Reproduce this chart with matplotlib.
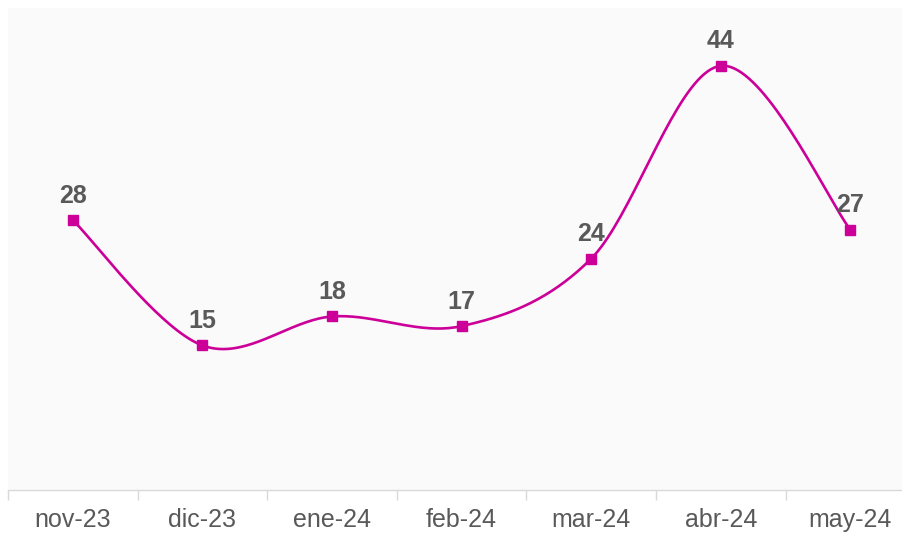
import matplotlib
matplotlib.use('Agg')
import matplotlib.pyplot as plt
import numpy as np

months = ['nov-23', 'dic-23', 'ene-24', 'feb-24', 'mar-24', 'abr-24', 'may-24']
values = [28, 15, 18, 17, 24, 44, 27]

line_color = '#CC0099'
text_color = '#595959'

plt.rcParams['font.family'] = ['Liberation Sans', 'DejaVu Sans']


def smooth(xs, ys, n=40):
    # Catmull-Rom style bezier, like a spreadsheet "smoothed line"
    xs = np.asarray(xs, float)
    ys = np.asarray(ys, float)
    px, py = [], []
    m = len(xs)
    for i in range(m - 1):
        x0, y0 = (xs[i - 1], ys[i - 1]) if i > 0 else (xs[i], ys[i])
        x3, y3 = (xs[i + 2], ys[i + 2]) if i + 2 < m else (xs[i + 1], ys[i + 1])
        c1x = xs[i] + (xs[i + 1] - x0) / 6
        c1y = ys[i] + (ys[i + 1] - y0) / 6
        c2x = xs[i + 1] - (x3 - xs[i]) / 6
        c2y = ys[i + 1] - (y3 - ys[i]) / 6
        t = np.linspace(0, 1, n)
        bx = (1 - t)**3 * xs[i] + 3 * (1 - t)**2 * t * c1x + 3 * (1 - t) * t**2 * c2x + t**3 * xs[i + 1]
        by = (1 - t)**3 * ys[i] + 3 * (1 - t)**2 * t * c1y + 3 * (1 - t) * t**2 * c2y + t**3 * ys[i + 1]
        px.extend(bx)
        py.extend(by)
    return px, py


fig = plt.figure(figsize=(9.02, 5.34), dpi=100)
ax = fig.add_axes([8 / 902, 44 / 534, 894 / 902, 482 / 534])
ax.set_facecolor('#FAFAFA')

x = np.arange(len(months))
sx, sy = smooth(x, values)
ax.plot(sx, sy, '-', color=line_color, linewidth=1.9, zorder=2)
ax.plot(x, values, 's', color=line_color, markersize=6.5, zorder=3, linestyle='none')

for xi, v in zip(x, values):
    ax.annotate(str(v), (xi, v), xytext=(0, 12.5), textcoords='offset points',
                ha='center', va='baseline', fontsize=18, fontweight='bold', color=text_color)

ax.set_xlim(-0.5, -0.5 + 894 / 129.6)
ax.set_ylim(0, 50)
ax.set_yticks([])
ax.set_xticks(x)
ax.set_xticklabels(months, fontsize=18, color=text_color)
ax.set_xticks(np.arange(len(months)) - 0.5, minor=True)
ax.tick_params(axis='x', which='major', length=0, pad=13)
ax.tick_params(axis='x', which='minor', length=7, color='#D9D9D9', width=1)

for side in ['top', 'right', 'left']:
    ax.spines[side].set_visible(False)
ax.spines['bottom'].set_color('#D9D9D9')
ax.spines['bottom'].set_linewidth(1)

plt.savefig('out.png', dpi=100)
plt.close()
